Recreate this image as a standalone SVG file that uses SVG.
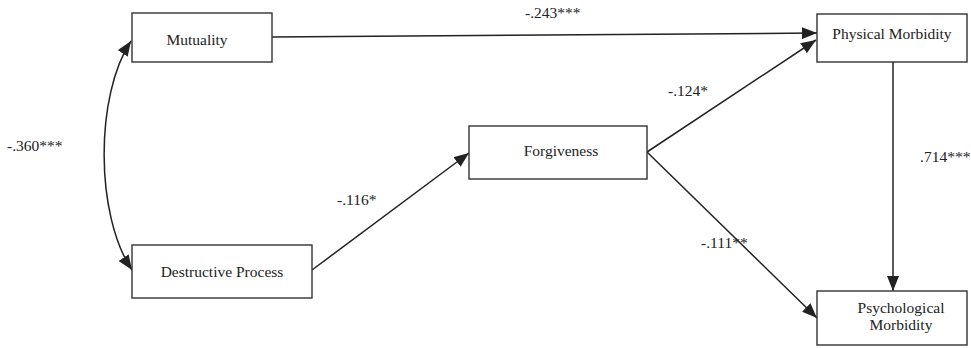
<svg xmlns="http://www.w3.org/2000/svg" width="971" height="348" viewBox="0 0 971 348">
<style>
.box{fill:#fff;stroke:#333;stroke-width:1.4}
.t{font-family:"Liberation Serif","Times New Roman",serif;font-size:15.5px;fill:#222;text-anchor:middle}
.lbl{font-family:"Liberation Serif","Times New Roman",serif;font-size:15.5px;fill:#222}
.c{fill:none;stroke:#222;stroke-width:1.5}
</style>
<defs>
<marker id="ah" markerUnits="userSpaceOnUse" markerWidth="16" markerHeight="12" refX="15" refY="6" orient="auto-start-reverse">
<path d="M0,0 L15,6 L0,12 z" fill="#222"/>
</marker>
</defs>
<rect width="971" height="348" fill="#fff"/>
<g id="connectors">
<path class="c" d="M131,41 C95,95 95,215 132,270" marker-start="url(#ah)" marker-end="url(#ah)"/>
<path class="c" d="M272,37 L817,33" marker-end="url(#ah)"/>
<path class="c" d="M312,270 L469,153" marker-end="url(#ah)"/>
<path class="c" d="M647,152 L816,40" marker-end="url(#ah)"/>
<path class="c" d="M647,152 L817,318" marker-end="url(#ah)"/>
<path class="c" d="M893,62 L893,291" marker-end="url(#ah)"/>
</g>
<g id="labels">
<text class="lbl" x="7" y="151">-.360***</text>
<text class="lbl" x="525" y="18">-.243***</text>
<text class="lbl" x="668" y="96">-.124*</text>
<text class="lbl" x="337" y="205">-.116*</text>
<text class="lbl" x="701" y="248">-.111**</text>
<text class="lbl" x="920" y="162">.714***</text>
</g>
<g id="mutuality">
<rect class="box" x="132" y="13" width="140" height="49"/>
<text class="t" x="197" y="45">Mutuality</text>
</g>
<g id="destructive">
<rect class="box" x="132" y="245" width="180" height="53"/>
<text class="t" x="222" y="277">Destructive Process</text>
</g>
<g id="forgiveness">
<rect class="box" x="469" y="126" width="178" height="53"/>
<text class="t" x="561" y="156">Forgiveness</text>
</g>
<g id="physical">
<rect class="box" x="817" y="14" width="150" height="48"/>
<text class="t" x="892" y="39">Physical Morbidity</text>
</g>
<g id="psychological">
<rect class="box" x="817" y="291" width="150" height="54"/>
<text class="t" x="901" y="313">Psychological</text>
<text class="t" x="901" y="330">Morbidity</text>
</g>
</svg>
